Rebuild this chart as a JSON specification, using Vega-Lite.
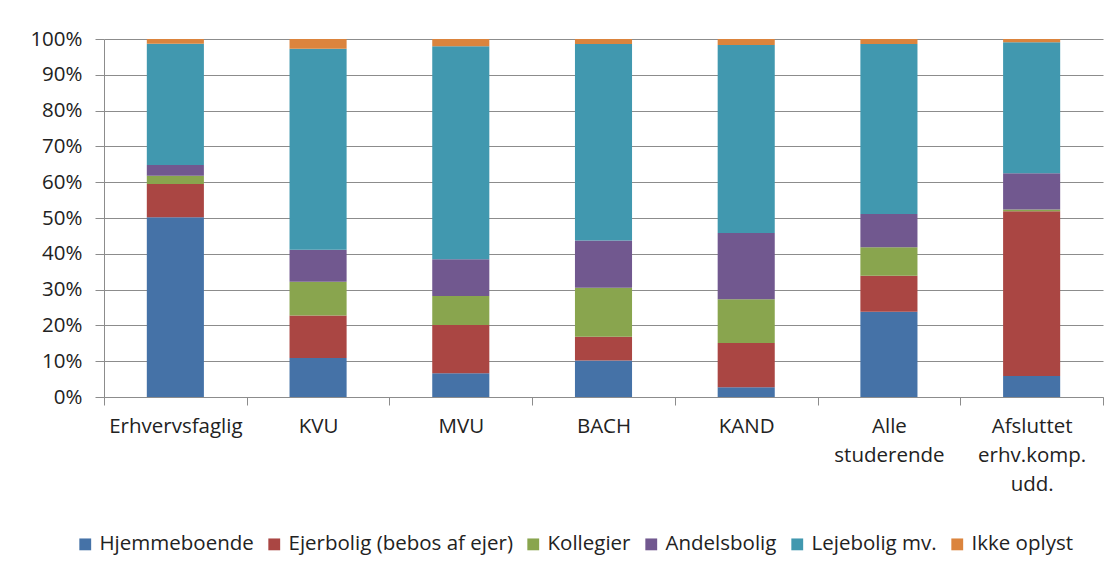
{
  "$schema": "https://vega.github.io/schema/vega-lite/v6.json",
  "autosize": {"type": "none"},
  "padding": {"left": 104, "top": 39, "right": 13, "bottom": 175},
  "width": 999,
  "height": 358,
  "background": "white",
  "config": {
    "view": {"stroke": null},
    "font": "Open Sans",
    "axis": {"labelFont": "Open Sans", "labelColor": "#222222", "labelFontSize": 20.5},
    "legend": {"labelFont": "Open Sans", "labelColor": "#222222", "labelFontSize": 20.5}
  },
  "data": {
    "values": [
      {"kat": "Erhvervsfaglig", "type": "Hjemmeboende", "o": 1, "v": 50.2},
      {"kat": "Erhvervsfaglig", "type": "Ejerbolig (bebos af ejer)", "o": 2, "v": 9.3},
      {"kat": "Erhvervsfaglig", "type": "Kollegier", "o": 3, "v": 2.3},
      {"kat": "Erhvervsfaglig", "type": "Andelsbolig", "o": 4, "v": 3.0},
      {"kat": "Erhvervsfaglig", "type": "Lejebolig mv.", "o": 5, "v": 33.9},
      {"kat": "Erhvervsfaglig", "type": "Ikke oplyst", "o": 6, "v": 1.3},
      {"kat": "KVU", "type": "Hjemmeboende", "o": 1, "v": 10.9},
      {"kat": "KVU", "type": "Ejerbolig (bebos af ejer)", "o": 2, "v": 11.9},
      {"kat": "KVU", "type": "Kollegier", "o": 3, "v": 9.4},
      {"kat": "KVU", "type": "Andelsbolig", "o": 4, "v": 8.9},
      {"kat": "KVU", "type": "Lejebolig mv.", "o": 5, "v": 56.2},
      {"kat": "KVU", "type": "Ikke oplyst", "o": 6, "v": 2.7},
      {"kat": "MVU", "type": "Hjemmeboende", "o": 1, "v": 6.6},
      {"kat": "MVU", "type": "Ejerbolig (bebos af ejer)", "o": 2, "v": 13.5},
      {"kat": "MVU", "type": "Kollegier", "o": 3, "v": 8.1},
      {"kat": "MVU", "type": "Andelsbolig", "o": 4, "v": 10.3},
      {"kat": "MVU", "type": "Lejebolig mv.", "o": 5, "v": 59.5},
      {"kat": "MVU", "type": "Ikke oplyst", "o": 6, "v": 2.0},
      {"kat": "BACH", "type": "Hjemmeboende", "o": 1, "v": 10.2},
      {"kat": "BACH", "type": "Ejerbolig (bebos af ejer)", "o": 2, "v": 6.6},
      {"kat": "BACH", "type": "Kollegier", "o": 3, "v": 13.7},
      {"kat": "BACH", "type": "Andelsbolig", "o": 4, "v": 13.2},
      {"kat": "BACH", "type": "Lejebolig mv.", "o": 5, "v": 54.9},
      {"kat": "BACH", "type": "Ikke oplyst", "o": 6, "v": 1.4},
      {"kat": "KAND", "type": "Hjemmeboende", "o": 1, "v": 2.7},
      {"kat": "KAND", "type": "Ejerbolig (bebos af ejer)", "o": 2, "v": 12.4},
      {"kat": "KAND", "type": "Kollegier", "o": 3, "v": 12.2},
      {"kat": "KAND", "type": "Andelsbolig", "o": 4, "v": 18.5},
      {"kat": "KAND", "type": "Lejebolig mv.", "o": 5, "v": 52.5},
      {"kat": "KAND", "type": "Ikke oplyst", "o": 6, "v": 1.7},
      {"kat": "Alle studerende", "type": "Hjemmeboende", "o": 1, "v": 23.8},
      {"kat": "Alle studerende", "type": "Ejerbolig (bebos af ejer)", "o": 2, "v": 10.1},
      {"kat": "Alle studerende", "type": "Kollegier", "o": 3, "v": 7.9},
      {"kat": "Alle studerende", "type": "Andelsbolig", "o": 4, "v": 9.3},
      {"kat": "Alle studerende", "type": "Lejebolig mv.", "o": 5, "v": 47.5},
      {"kat": "Alle studerende", "type": "Ikke oplyst", "o": 6, "v": 1.4},
      {"kat": "Afsluttet erhv.komp. udd.", "type": "Hjemmeboende", "o": 1, "v": 5.9},
      {"kat": "Afsluttet erhv.komp. udd.", "type": "Ejerbolig (bebos af ejer)", "o": 2, "v": 46.0},
      {"kat": "Afsluttet erhv.komp. udd.", "type": "Kollegier", "o": 3, "v": 0.5},
      {"kat": "Afsluttet erhv.komp. udd.", "type": "Andelsbolig", "o": 4, "v": 10.1},
      {"kat": "Afsluttet erhv.komp. udd.", "type": "Lejebolig mv.", "o": 5, "v": 36.6},
      {"kat": "Afsluttet erhv.komp. udd.", "type": "Ikke oplyst", "o": 6, "v": 0.9}
    ]
  },
  "mark": {"type": "bar", "width": {"band": 0.4}},
  "encoding": {
    "x": {
      "field": "kat",
      "type": "nominal",
      "sort": null,
      "scale": {"paddingInner": 0, "paddingOuter": 0},
      "axis": {
        "title": null,
        "labelAngle": 0,
        "labelExpr": "split(datum.label, ' ')",
        "labelLineHeight": 29,
        "labelPadding": 11,
        "labelBaseline": "top",
        "labelLimit": 300,
        "tickBand": "extent",
        "tickSize": 8,
        "tickColor": "#8c8c8c",
        "domainColor": "#8c8c8c",
        "grid": false
      }
    },
    "y": {
      "field": "v",
      "type": "quantitative",
      "stack": "normalize",
      "scale": {"domain": [0, 1], "nice": false},
      "axis": {
        "title": null,
        "format": ".0%",
        "values": [0, 0.1, 0.2, 0.3, 0.4, 0.5, 0.6, 0.7, 0.8, 0.9, 1],
        "tickSize": 9,
        "labelPadding": 13,
        "tickColor": "#8c8c8c",
        "domainColor": "#8c8c8c",
        "grid": true,
        "gridColor": "#8c8c8c",
        "gridOpacity": 1
      }
    },
    "color": {
      "field": "type",
      "type": "nominal",
      "scale": {
        "domain": ["Hjemmeboende", "Ejerbolig (bebos af ejer)", "Kollegier", "Andelsbolig", "Lejebolig mv.", "Ikke oplyst"],
        "range": ["#4572A7", "#AA4643", "#89A54E", "#71588F", "#4198AF", "#DB843D"]
      },
      "legend": {
        "title": null,
        "orient": "none",
        "legendX": -29,
        "legendY": 495,
        "direction": "horizontal",
        "symbolType": "square",
        "symbolSize": 140,
        "symbolStrokeWidth": 0,
        "labelOffset": 4,
        "labelLimit": 400,
        "columnPadding": 10
      }
    },
    "order": {"field": "o", "type": "quantitative"}
  }
}
